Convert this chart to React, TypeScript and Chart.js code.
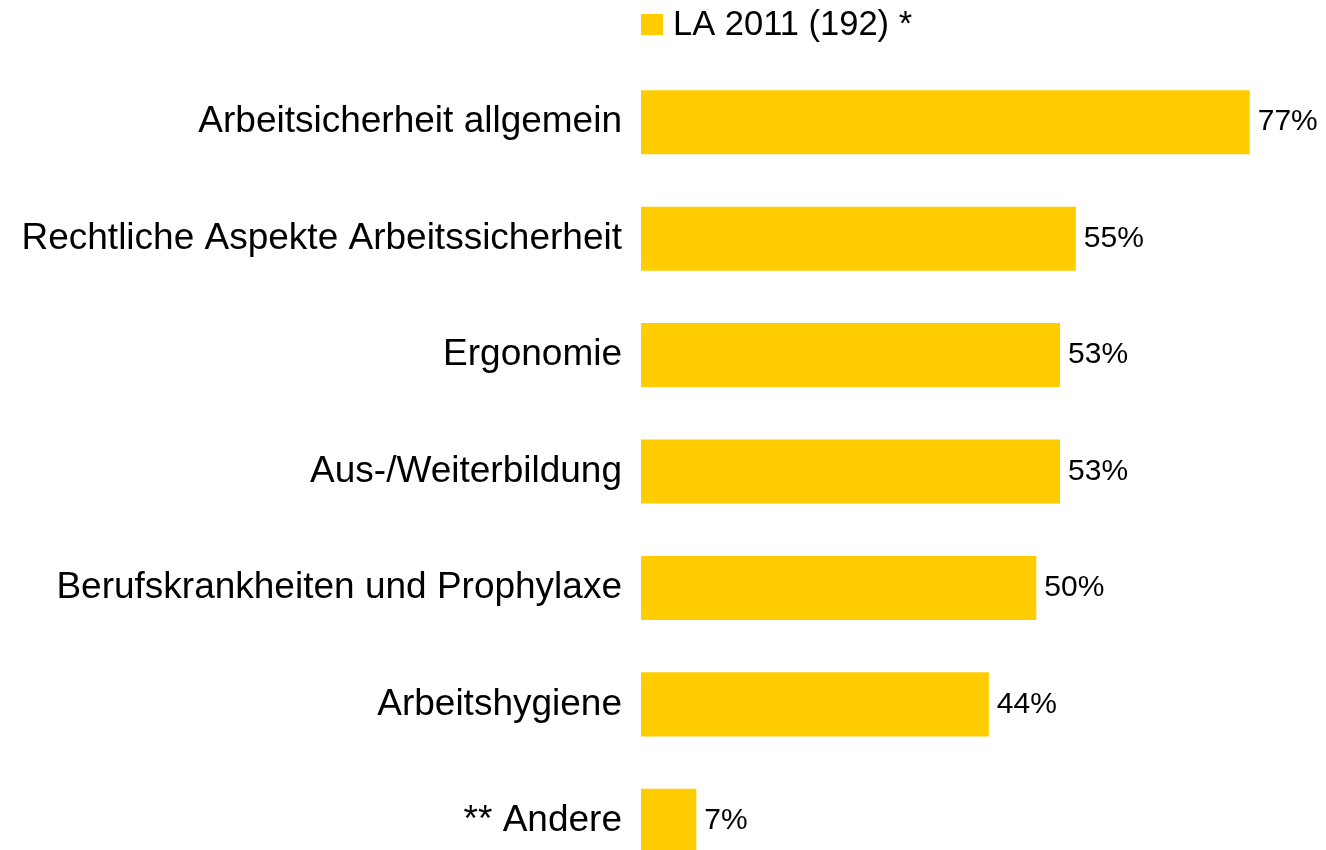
import React, { useEffect, useRef } from "react";
import { Chart, registerables } from "chart.js";

Chart.register(...registerables);

const categories = [
  "Arbeitsicherheit allgemein",
  "Rechtliche Aspekte Arbeitssicherheit",
  "Ergonomie",
  "Aus-/Weiterbildung",
  "Berufskrankheiten und Prophylaxe",
  "Arbeitshygiene",
  "** Andere",
];
const values = [77, 55, 53, 53, 50, 44, 7];
const seriesLabel = "LA 2011 (192) *";
const barColor = "#FFCC00";
const FONT = '"Liberation Sans", Arial, Helvetica, sans-serif';

const labelsPlugin = {
  id: "labelsAndLegend",
  afterDatasetsDraw(chart: any) {
    const ctx = chart.ctx;
    const meta = chart.getDatasetMeta(0);
    const ds = chart.data.datasets[0];
    ctx.save();
    ctx.fillStyle = "#000000";
    ctx.font = `30px ${FONT}`;
    ctx.textAlign = "left";
    ctx.textBaseline = "middle";
    meta.data.forEach((bar: any, i: number) => {
      ctx.fillText(`${ds.data[i]}%`, bar.x + 8, bar.y);
    });
    // legend
    const left = chart.chartArea.left;
    ctx.fillStyle = ds.backgroundColor;
    ctx.fillRect(left, 14, 22, 21);
    ctx.fillStyle = "#000000";
    ctx.font = `34.5px ${FONT}`;
    ctx.textBaseline = "middle";
    ctx.fillText(ds.label, left + 32, 25);
    ctx.restore();
  },
};

export default function App() {
  const ref = useRef<HTMLCanvasElement | null>(null);
  useEffect(() => {
    if (!ref.current) return;
    const chart = new Chart(ref.current, {
      type: "bar",
      data: {
        labels: categories,
        datasets: [
          {
            label: seriesLabel,
            data: values,
            backgroundColor: barColor,
            borderWidth: 0,
            categoryPercentage: 1,
            barPercentage: 0.55,
          },
        ],
      },
      options: {
        indexAxis: "y",
        responsive: false,
        animation: false,
        layout: { padding: { top: 64, right: 13, bottom: 0, left: 0 } },
        plugins: {
          legend: { display: false },
          tooltip: { enabled: false },
        },
        scales: {
          x: { display: false, min: 0, max: 85 },
          y: {
            grid: { display: false, drawTicks: false },
            border: { display: false },
            afterFit: (scale: any) => {
              scale.width = 641;
              scale.paddingTop = 0;
              scale.paddingBottom = 0;
            },
            ticks: {
              autoSkip: false,
              padding: 19,
              color: "#000000",
              font: { size: 37, family: FONT },
            },
          },
        },
      },
      plugins: [labelsPlugin],
    });
    return () => chart.destroy();
  }, []);
  return (
    <div
      style={{
        position: "fixed",
        top: 0,
        left: 0,
        width: 1326,
        height: 850,
        overflow: "hidden",
        background: "#ffffff",
      }}
    >
      <canvas ref={ref} width={1326} height={879} style={{ display: "block" }} />
    </div>
  );
}
